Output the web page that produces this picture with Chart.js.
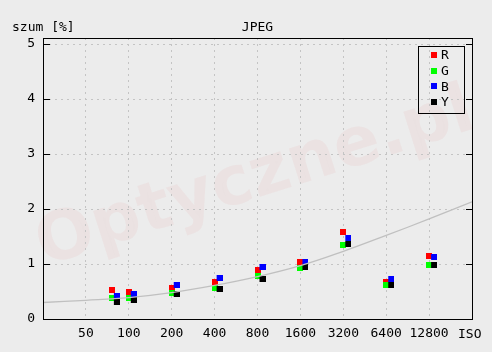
<!DOCTYPE html>
<html>
<head>
<meta charset="utf-8">
<title>szum JPEG</title>
<script src="https://cdn.jsdelivr.net/npm/chart.js@4/dist/chart.umd.min.js"></script>
<style>
  html, body { margin: 0; padding: 0; background: #ececec; }
  canvas { display: block; }
</style>
</head>
<body>
<canvas id="noiseChart" width="492" height="352"></canvas>
<script>
/* ── data ───────────────────────────────────────── */
var isoTicks = [50, 100, 200, 400, 800, 1600, 3200, 6400, 12800];
var noiseTicks = [0, 1, 2, 3, 4, 5];

var isoPoints = [76, 100, 200, 400, 800, 1600, 3200, 6400, 12800];
var noiseR = [0.52, 0.50, 0.57, 0.68, 0.90, 1.03, 1.59, 0.68, 1.15];
var noiseG = [0.38, 0.39, 0.47, 0.57, 0.78, 0.93, 1.35, 0.62, 0.99];
var noiseB = [0.42, 0.45, 0.61, 0.75, 0.95, 1.04, 1.47, 0.72, 1.12];
var noiseY = [0.31, 0.35, 0.46, 0.55, 0.73, 0.94, 1.37, 0.61, 0.99];

var trendIso = [25, 50, 100, 200, 400, 800, 1600, 3200, 6400, 12800, 25600];
var trendNoise = [0.30, 0.34, 0.39, 0.48, 0.61, 0.77, 0.97, 1.23, 1.52, 1.82, 2.13];

var FONT = "'DejaVu Sans Mono', monospace";

/* ── helpers ────────────────────────────────────── */
function pairs(xs, ys) {
  return xs.map(function (x, i) { return { x: x, y: ys[i] }; });
}

// small square marker, optionally shifted right so the four channels sit side by side
function squareMarker(color, shift) {
  var c = document.createElement('canvas');
  c.width = 6 + 2 * shift;
  c.height = 6;
  var g = c.getContext('2d');
  g.fillStyle = color;
  g.fillRect(2 * shift, 0, 6, 6);
  return c;
}

var series = [
  { label: 'R', color: '#ff0000', data: noiseR, shift: 0 },
  { label: 'G', color: '#00ff00', data: noiseG, shift: 0 },
  { label: 'B', color: '#0000ff', data: noiseB, shift: 5 },
  { label: 'Y', color: '#000000', data: noiseY, shift: 5 }
];

var datasets = [{
  type: 'line',
  label: 'trend',
  data: pairs(trendIso, trendNoise),
  borderColor: '#c0c0c0',
  borderWidth: 1.3,
  pointRadius: 0,
  tension: 0.4,
  fill: false,
  order: 0
}];
series.forEach(function (s, i) {
  datasets.push({
    label: s.label,
    data: pairs(isoPoints, s.data),
    pointStyle: squareMarker(s.color, s.shift),
    backgroundColor: s.color,
    borderColor: s.color,
    showLine: false,
    order: 4 - i
  });
});

/* ── plugins ────────────────────────────────────── */
var backdrop = {
  id: 'backdrop',
  beforeDraw: function (chart) {
    var ctx = chart.ctx;
    ctx.save();
    ctx.fillStyle = '#ececec';
    ctx.fillRect(0, 0, chart.width, chart.height);
    // watermark
    ctx.translate(44, 266);
    ctx.rotate(-0.31);
    ctx.font = "bold 68px 'DejaVu Sans', sans-serif";
    ctx.textAlign = 'left';
    ctx.textBaseline = 'alphabetic';
    ctx.shadowColor = 'rgba(0,0,0,0.05)';
    ctx.shadowBlur = 4;
    ctx.shadowOffsetX = 2;
    ctx.shadowOffsetY = 2;
    ctx.fillStyle = 'rgba(225,120,120,0.08)';
    ctx.fillText('Optyczne.pl', 0, 0);
    ctx.restore();
  }
};

var frame = {
  id: 'frame',
  afterDraw: function (chart) {
    var ctx = chart.ctx, a = chart.chartArea, y = chart.scales.y;
    ctx.save();
    ctx.strokeStyle = '#000';
    ctx.lineWidth = 1;
    ctx.strokeRect(a.left + 0.5, a.top + 0.5, a.right - a.left, a.bottom - a.top);

    // inward tick marks on both sides
    ctx.beginPath();
    noiseTicks.forEach(function (v) {
      if (v === 0) return;
      var py = Math.round(y.getPixelForValue(v)) + 0.5;
      ctx.moveTo(a.left, py); ctx.lineTo(a.left + 7, py);
      ctx.moveTo(a.right - 6, py); ctx.lineTo(a.right, py);
    });
    ctx.stroke();

    // titles
    ctx.fillStyle = '#000';
    ctx.font = '13px ' + FONT;
    ctx.textBaseline = 'alphabetic';
    ctx.textAlign = 'left';
    ctx.fillText('szum [%]', 12, 31);
    ctx.textAlign = 'center';
    ctx.fillText('JPEG', (a.left + a.right) / 2, 31);
    ctx.textAlign = 'left';
    ctx.fillText('ISO', 458, 338);

    // legend box
    var bx = a.right - 54, by = a.top + 8;
    ctx.strokeRect(bx + 0.5, by + 0.5, 46, 67);
    series.forEach(function (s, i) {
      var cy = by + 9 + i * 15.7;
      ctx.fillStyle = s.color;
      ctx.fillRect(bx + 13, Math.round(cy - 3), 6, 6);
      ctx.fillStyle = '#000';
      ctx.textBaseline = 'middle';
      ctx.fillText(s.label, bx + 23, cy + 1);
    });
    ctx.restore();
  }
};

/* ── chart ──────────────────────────────────────── */
new Chart(document.getElementById('noiseChart'), {
  type: 'scatter',
  data: { datasets: datasets },
  options: {
    responsive: false,
    animation: false,
    events: [],
    devicePixelRatio: 1,
    layout: { padding: { top: 38, right: 20, left: 0, bottom: 0 } },
    plugins: {
      legend: { display: false },
      tooltip: { enabled: false }
    },
    scales: {
      x: {
        type: 'logarithmic',
        min: 25,
        max: 25600,
        afterBuildTicks: function (s) {
          s.ticks = isoTicks.map(function (v) { return { value: v }; });
        },
        afterFit: function (s) { s.height = 33; },
        grid: { color: '#c4c4c4', lineWidth: 1, drawTicks: false },
        border: { display: false, dash: [2, 4] },
        ticks: {
          color: '#000',
          font: { family: FONT, size: 13 },
          padding: 7,
          autoSkip: false,
          maxRotation: 0,
          callback: function (v) { return String(v); }
        }
      },
      y: {
        type: 'linear',
        min: 0,
        max: 5.11,
        afterBuildTicks: function (s) {
          s.ticks = noiseTicks.map(function (v) { return { value: v }; });
        },
        afterFit: function (s) { s.width = 43; },
        grid: { color: '#c4c4c4', lineWidth: 1, drawTicks: false },
        border: { display: false, dash: [2, 4] },
        ticks: {
          color: '#000',
          font: { family: FONT, size: 13 },
          padding: 8,
          callback: function (v) { return String(v); }
        }
      }
    }
  },
  plugins: [backdrop, frame]
});
</script>
</body>
</html>
